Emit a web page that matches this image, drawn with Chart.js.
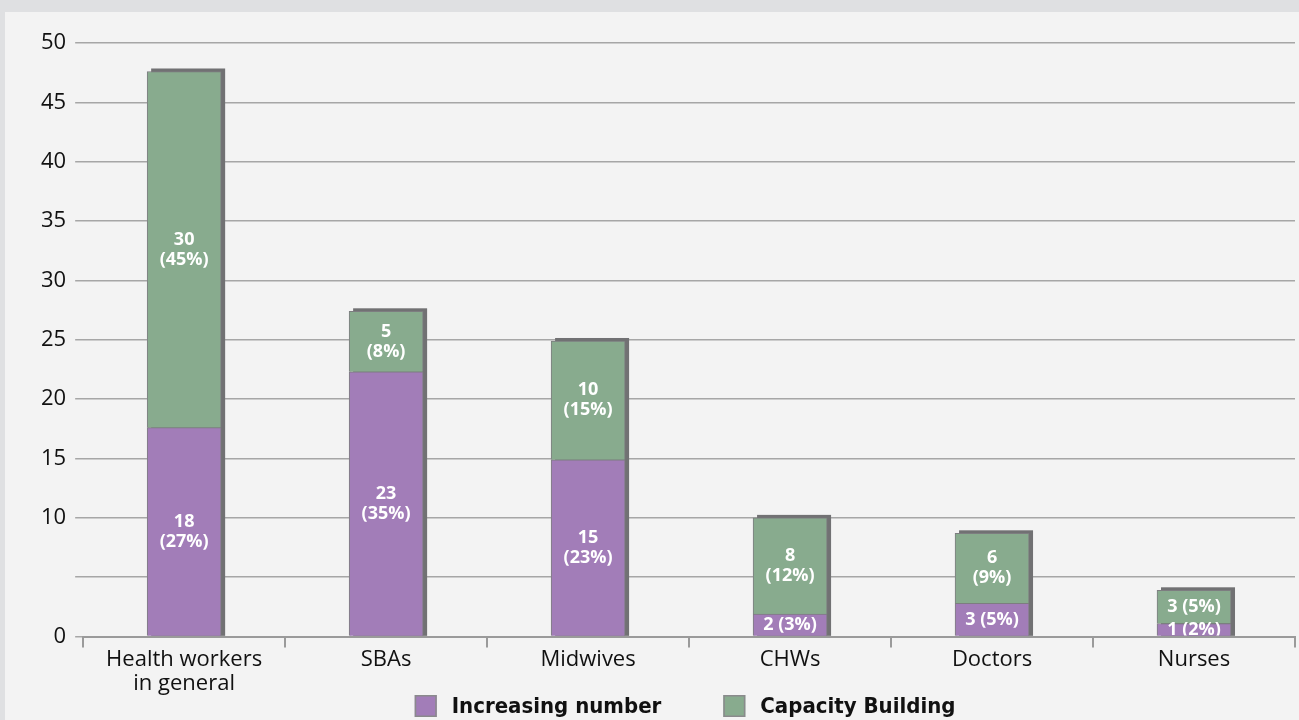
<!DOCTYPE html>
<html>
<head>
<meta charset="utf-8">
<script src="https://cdn.jsdelivr.net/npm/chart.js@4.4.0/dist/chart.umd.min.js"></script>
<style>
  html, body { margin: 0; padding: 0; background: #dfe0e2; }
  #panel { position: absolute; left: 5px; top: 12px; width: 1294px; height: 708px; background: #f3f3f3; }
</style>
</head>
<body>
<div id="panel"><canvas id="chart" width="1294" height="708"></canvas></div>
<script>
const categories = [['Health workers', 'in general'], 'SBAs', 'Midwives', 'CHWs', 'Doctors', 'Nurses'];
const increasingNumber = [17.6, 22.3, 14.9, 1.9, 2.8, 1.1];
const capacityBuilding = [30, 5.1, 10, 8.1, 5.9, 2.8];
const increasingLabels = ['18\n(27%)', '23\n(35%)', '15\n(23%)', '2 (3%)', '3 (5%)', '1 (2%)'];
const capacityLabels = ['30\n(45%)', '5\n(8%)', '10\n(15%)', '8\n(12%)', '6\n(9%)', '3 (5%)'];
const yTicks = [0, 10, 15, 20, 25, 30, 35, 40, 45, 50];

const FONT = "'Open Sans', sans-serif";
const LEGEND_FONT = "bold 22px 'DejaVu Sans Condensed', sans-serif";

// dark grey drop shadow behind each stacked column
const shadowPlugin = {
    id: 'shadow',
    beforeDatasetsDraw(chart) {
        const ctx = chart.ctx;
        const bottomMeta = chart.getDatasetMeta(0);
        const topMeta = chart.getDatasetMeta(1);
        ctx.save();
        ctx.fillStyle = '#717173';
        topMeta.data.forEach((el, i) => {
            const base = bottomMeta.data[i].base;
            ctx.fillRect(el.x - el.width / 2 + 4, el.y - 3, el.width, base - el.y + 3);
        });
        ctx.restore();
    }
};

// white value labels in the middle of each segment
const valueLabels = {
    id: 'valueLabels',
    afterDatasetsDraw(chart) {
        const ctx = chart.ctx;
        const area = chart.chartArea;
        const texts = [increasingLabels, capacityLabels];
        ctx.save();
        ctx.beginPath();
        ctx.rect(area.left, area.top - 10, area.right - area.left, area.bottom - area.top + 9);
        ctx.clip();
        ctx.fillStyle = '#ffffff';
        ctx.font = 'bold 18px ' + FONT;
        ctx.textAlign = 'center';
        ctx.textBaseline = 'middle';
        chart.data.datasets.forEach((ds, d) => {
            chart.getDatasetMeta(d).data.forEach((el, i) => {
                const lines = texts[d][i].split('\n');
                const mid = (el.y + el.base) / 2;
                const lh = 20;
                lines.forEach((line, k) => {
                    ctx.fillText(line, el.x, mid + (k - (lines.length - 1) / 2) * lh);
                });
            });
        });
        ctx.restore();
    }
};

// legend under the axis, roughly centred on the plot
const bottomLegend = {
    id: 'bottomLegend',
    afterDraw(chart) {
        const ctx = chart.ctx;
        const area = chart.chartArea;
        const ds = chart.data.datasets;
        const box = 22, gapText = 15, gapItem = 62;
        ctx.save();
        ctx.font = LEGEND_FONT;
        const widths = ds.map(d => ctx.measureText(d.label).width);
        let total = ds.length * (box + gapText) + widths.reduce((a, b) => a + b, 0) + gapItem * (ds.length - 1);
        let x = (area.left + area.right) / 2 - 4 - total / 2;
        const y = chart.height - 25;
        ds.forEach((d, i) => {
            ctx.fillStyle = d.backgroundColor;
            ctx.fillRect(x, y, box, box);
            ctx.strokeStyle = '#8a8a8c';
            ctx.lineWidth = 1.5;
            ctx.strokeRect(x + 0.75, y + 0.75, box - 1.5, box - 1.5);
            ctx.fillStyle = '#111';
            ctx.textBaseline = 'middle';
            ctx.textAlign = 'left';
            ctx.fillText(d.label, x + box + gapText, y + box / 2 + 1);
            x += box + gapText + widths[i] + gapItem;
        });
        ctx.restore();
    }
};

new Chart(document.getElementById('chart'), {
    type: 'bar',
    data: {
        labels: categories,
        datasets: [
            {
                label: 'Increasing number',
                data: increasingNumber,
                backgroundColor: '#a27db8',
                borderColor: '#7d7d80',
                borderWidth: 1,
                barThickness: 74
            },
            {
                label: 'Capacity Building',
                data: capacityBuilding,
                backgroundColor: '#88ab8e',
                borderColor: '#7d7d80',
                borderWidth: 1,
                barThickness: 74
            }
        ]
    },
    options: {
        responsive: false,
        animation: false,
        layout: { padding: { top: 31, right: 4, left: 27, bottom: 24 } },
        scales: {
            x: {
                stacked: true,
                grid: { drawOnChartArea: false, drawTicks: true, tickLength: 11, color: '#9a9a9a', lineWidth: 2 },
                border: { display: true, color: '#9a9a9a', width: 2 },
                ticks: { color: '#111', font: { family: FONT, size: 22, lineHeight: 1.1 }, padding: 0, maxRotation: 0 }
            },
            y: {
                stacked: true,
                min: 0,
                max: 50,
                afterBuildTicks(axis) { axis.ticks = yTicks.concat([5]).sort((a, b) => a - b).map(v => ({ value: v })); },
                grid: { color: '#a6a6a6', lineWidth: 1.5, drawTicks: true, tickLength: 8 },
                border: { display: false },
                ticks: {
                    color: '#111',
                    font: { family: FONT, size: 22 },
                    padding: 9,
                    callback: v => yTicks.includes(v) ? v : ''
                }
            }
        },
        plugins: {
            tooltip: { enabled: false },
            legend: { display: false }
        }
    },
    plugins: [shadowPlugin, valueLabels, bottomLegend]
});
</script>
</body>
</html>
